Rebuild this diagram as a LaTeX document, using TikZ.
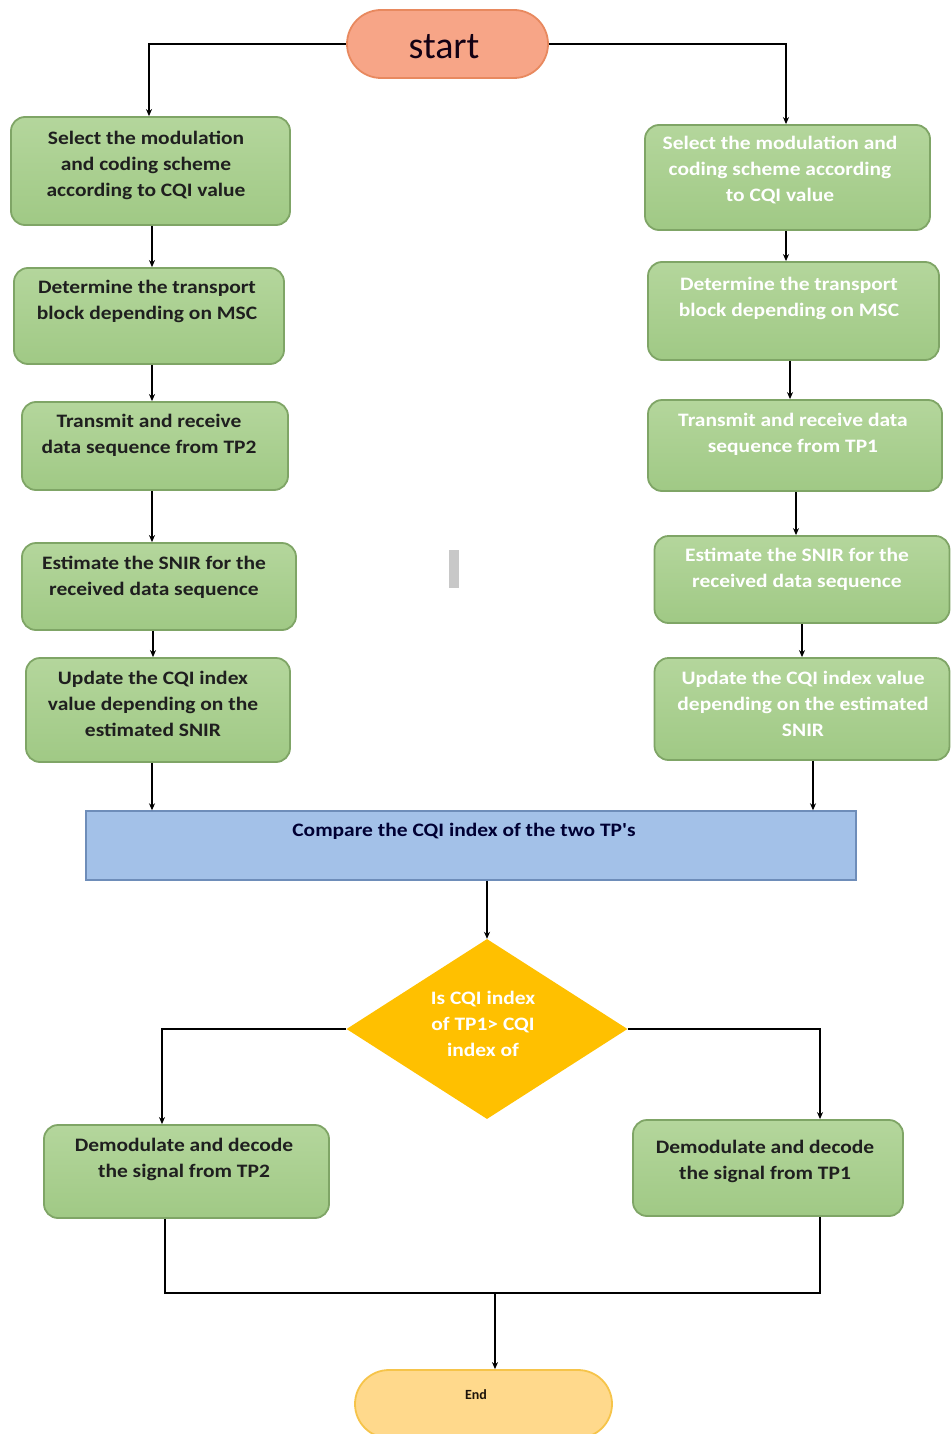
\documentclass[tikz,border=0pt]{standalone}
\usepackage{fontspec}
\setmainfont{Carlito}
\newfontfamily\boxfont[FakeStretch=1.13]{Carlito}
\usetikzlibrary{shapes.geometric,arrows.meta,calc}
\definecolor{gtop}{HTML}{B4D69C}
\definecolor{gbot}{HTML}{A0C985}
\definecolor{gdraw}{HTML}{7FA566}
\definecolor{sfill}{HTML}{F7A587}
\definecolor{sdraw}{HTML}{E8895F}
\definecolor{cfill}{HTML}{A3C1E8}
\definecolor{cdraw}{HTML}{6E8DB9}
\definecolor{dfill}{HTML}{FFC000}
\definecolor{efill}{HTML}{FFD98C}
\definecolor{edraw}{HTML}{F6C44A}
\definecolor{stray}{HTML}{C8C8C8}
\begin{document}
\begin{tikzpicture}[x=1pt,y=-1pt,
  gbox/.style={draw=gdraw, top color=gtop, bottom color=gbot, line width=1.8pt, rounded corners=14pt, inner sep=0pt},
  txt/.style={font=\boxfont\bfseries\fontsize{19}{26}\selectfont, align=center, inner sep=0pt},
  ltxt/.style={txt, text=black!88},
  rtxt/.style={txt, text=white},
  arr/.style={line width=1.6pt, -{Stealth[length=7pt,width=6pt]}},
  ln/.style={line width=1.6pt}]
\useasboundingbox (0,0) rectangle (951,1434);

% start
\node[draw=sdraw, fill=sfill, line width=1.8pt, rounded corners=34pt, minimum width=201pt, minimum height=68pt, inner sep=0pt] (start) at (447.5,44) {};
\node[font=\fontsize{38}{40}\selectfont, text={black!85!violet}, inner sep=0pt] (startt) at (444,47) {start};

% left column
\node[gbox, minimum width=279pt, minimum height=108pt] (L1) at (150.5,171) {};
\node[ltxt] (L1t) at (146,165) {Select the modulation\\and coding scheme\\according to CQI value};
\node[gbox, minimum width=270pt, minimum height=96pt] (L2) at (149,316) {};
\node[ltxt] (L2t) at (147,301) {Determine the transport\\block depending on MSC};
\node[gbox, minimum width=266pt, minimum height=88pt] (L3) at (155,446) {};
\node[ltxt] (L3t) at (149,435) {Transmit and receive\\data sequence from TP2};
\node[gbox, minimum width=274pt, minimum height=87pt] (L4) at (159,586.5) {};
\node[ltxt] (L4t) at (154,577) {Estimate the SNIR for the\\received data sequence};
\node[gbox, minimum width=264pt, minimum height=104pt] (L5) at (158,710) {};
\node[ltxt] (L5t) at (153,704) {Update the CQI index\\value depending on the\\estimated SNIR};

% right column
\node[gbox, minimum width=285pt, minimum height=105pt] (R1) at (787.5,177.5) {};
\node[rtxt] (R1t) at (780,170.5) {Select the modulation and\\coding scheme according\\to CQI value};
\node[gbox, minimum width=291pt, minimum height=98pt] (R2) at (793.5,311) {};
\node[rtxt] (R2t) at (789,298.5) {Determine the transport\\block depending on MSC};
\node[gbox, minimum width=294pt, minimum height=91pt] (R3) at (795,445.5) {};
\node[rtxt] (R3t) at (793,434.5) {Transmit and receive data\\sequence from TP1};
\node[gbox, minimum width=295pt, minimum height=87pt] (R4) at (802,579.5) {};
\node[rtxt] (R4t) at (797,569) {Estimate the SNIR for the\\received data sequence};
\node[gbox, minimum width=295pt, minimum height=102pt] (R5) at (802,709) {};
\node[rtxt] (R5t) at (803,704) {Update the CQI index value\\depending on the estimated\\SNIR};

% compare
\node[draw=cdraw, fill=cfill, line width=1.4pt, minimum width=770pt, minimum height=69pt, inner sep=0pt] (cmp) at (471,845.5) {};
\node[txt, text={black!80!blue}] (cmpt) at (464,831) {Compare the CQI index of the two TP's};

% decision
\node[diamond, fill=dfill, minimum width=281pt, minimum height=180pt, inner sep=0pt] (dia) at (487,1029) {};
\node[rtxt] (diat) at (483,1024) {Is CQI index\\of TP1> CQI\\index of};

% demodulate boxes
\node[gbox, minimum width=285pt, minimum height=93pt] (DL) at (186.5,1171.5) {};
\node[ltxt] (DLt) at (184,1159.5) {Demodulate and decode\\the signal from TP2};
\node[gbox, minimum width=270pt, minimum height=96pt] (DR) at (768,1168) {};
\node[ltxt] (DRt) at (765,1161) {Demodulate and decode\\the signal from TP1};

% end
\node[draw=edraw, fill=efill, line width=1.8pt, rounded corners=34pt, minimum width=257pt, minimum height=68pt, inner sep=0pt] (End) at (483.5,1404) {};
\node[txt, font=\bfseries\fontsize{14}{16}\selectfont, text={black!85!brown}] (Endt) at (476,1395) {End};

% stray mark
\fill[stray] (449,550) rectangle (459,588);

% connectors
\draw[arr] (start.west) -| ([xshift=-1.5pt]L1.north);
\draw[arr] (start.east) -| ([xshift=-1.5pt]R1.north);

\draw[arr] ([xshift=1.5pt]L1.south) -- ([xshift=1.5pt]L1.south |- L2.north);
\draw[arr] ([xshift=3pt]L2.south) -- ([xshift=3pt]L2.south |- L3.north);
\draw[arr] ([xshift=-3pt]L3.south) -- ([xshift=-3pt]L3.south |- L4.north);
\draw[arr] ([xshift=-6pt]L4.south) -- ([xshift=-6pt]L4.south |- L5.north);
\draw[arr] ([xshift=-6pt]L5.south) -- ([xshift=-6pt]L5.south |- cmp.north);

\draw[arr] ([xshift=-1.5pt]R1.south) -- ([xshift=-1.5pt]R1.south |- R2.north);
\draw[arr] ([xshift=-3.5pt]R2.south) -- ([xshift=-3.5pt]R2.south |- R3.north);
\draw[arr] ([xshift=1pt]R3.south) -- ([xshift=1pt]R3.south |- R4.north);
\draw[arr] ([xshift=0pt]R4.south) -- ([xshift=0pt]R4.south |- R5.north);
\draw[arr] ([xshift=11pt]R5.south) -- ([xshift=11pt]R5.south |- cmp.north);

\draw[arr] (dia.north |- cmp.south) -- (dia.north);

\draw[arr] (dia.west) -| ([xshift=-24.5pt]DL.north);
\draw[arr] (dia.east) -| ([xshift=52pt]DR.north);

\coordinate (j) at (495,1293);
\draw[ln] ([xshift=-21.5pt]DL.south) |- (j);
\draw[ln] ([xshift=52pt]DR.south) |- (j);
\draw[arr] (j) -- (j |- End.north);
\end{tikzpicture}
\end{document}
